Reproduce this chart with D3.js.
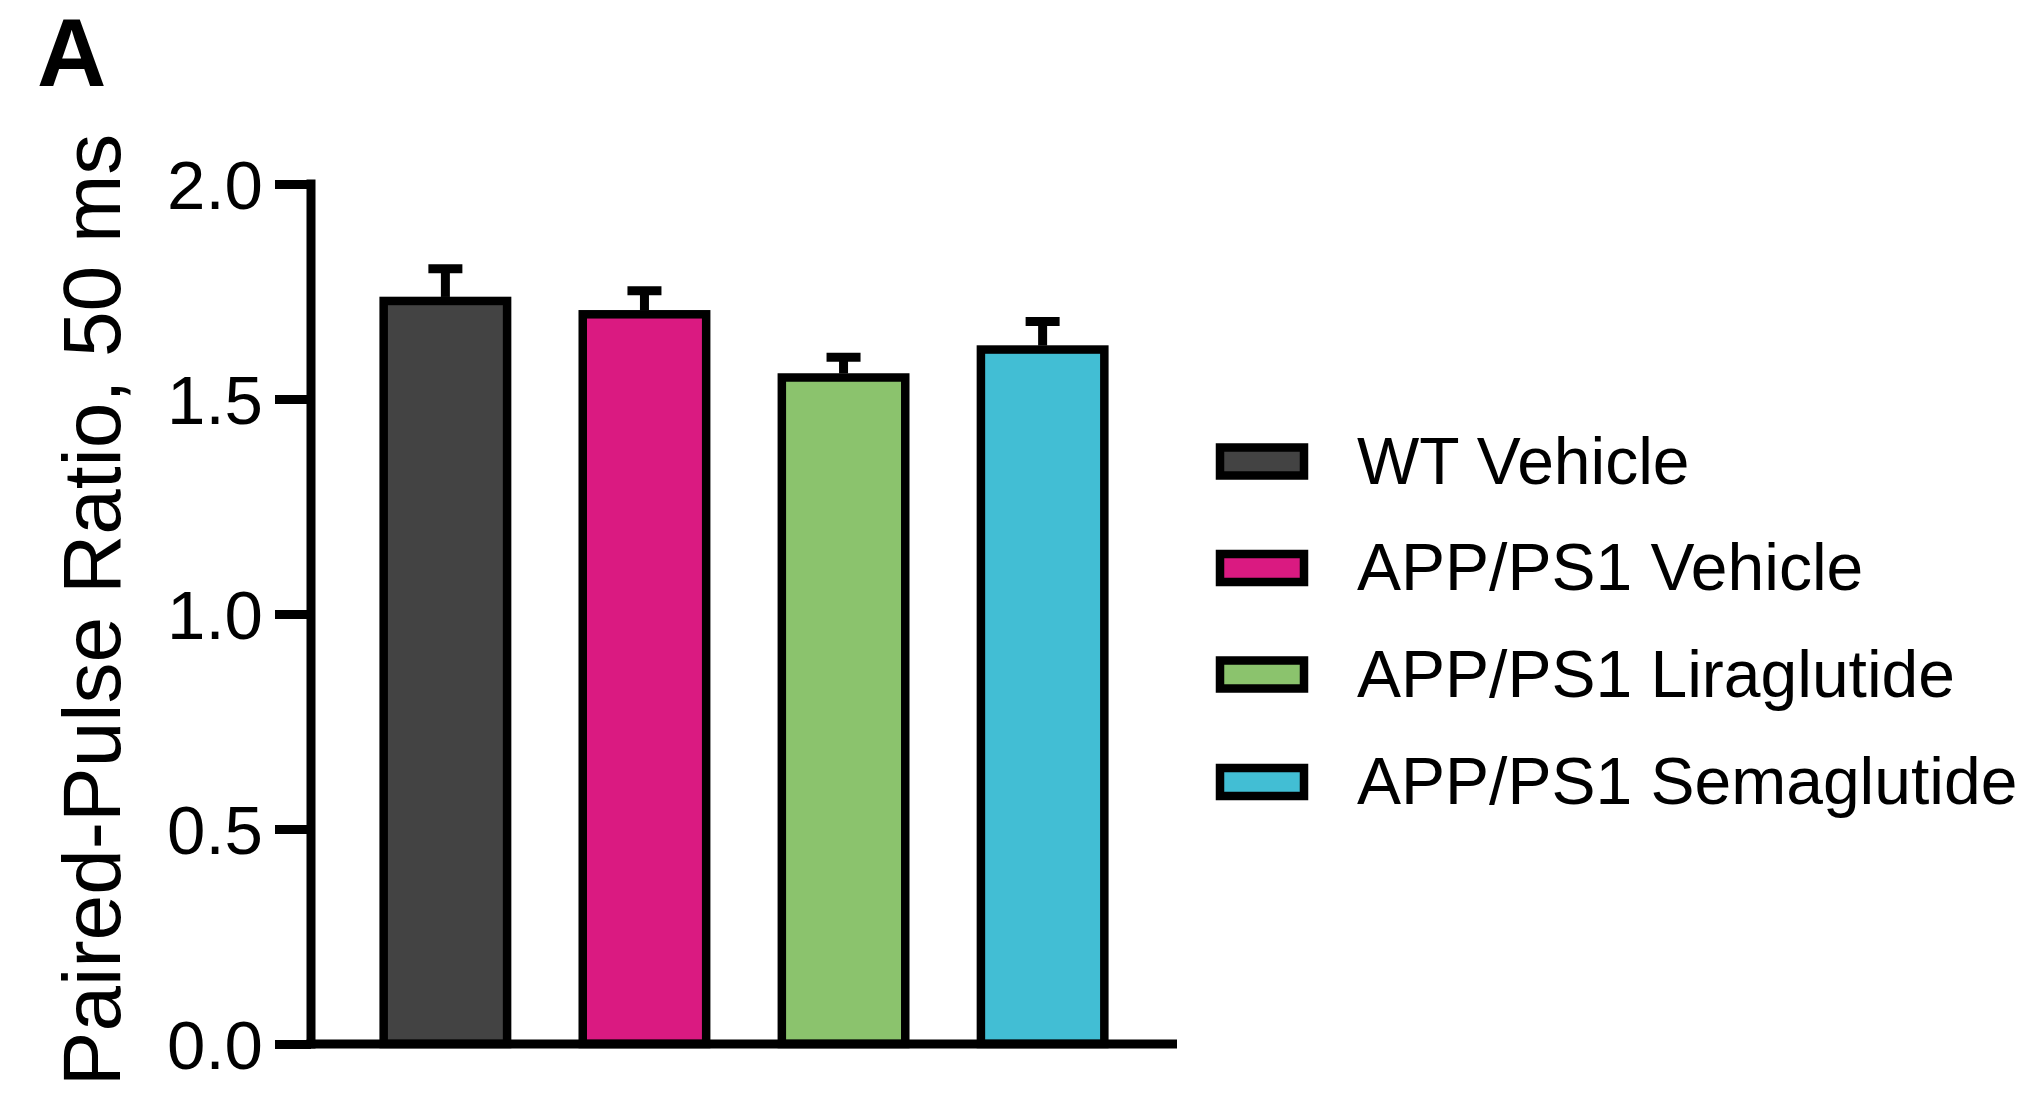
<!DOCTYPE html>
<html>
<head>
<meta charset="utf-8">
<script src="https://cdn.jsdelivr.net/npm/d3@7"></script>
<style>
  html, body { margin: 0; padding: 0; background: #fff; }
  svg { display: block; }
  text { font-family: "Liberation Sans", Arial, Helvetica, sans-serif; fill: #000; }
</style>
</head>
<body>
<svg id="chart" width="2024" height="1113"></svg>
<script>
// Paired-pulse ratio at 50 ms inter-stimulus interval, mean ± SEM per group
const groups = ["WT Vehicle", "APP/PS1 Vehicle", "APP/PS1 Liraglutide", "APP/PS1 Semaglutide"];
const means = [1.728, 1.697, 1.550, 1.615];
const sems = [0.075, 0.055, 0.047, 0.065];
const colors = ["#434343", "#DA1A81", "#8BC36D", "#42BED4"];
const yTicks = [0, 0.5, 1.0, 1.5, 2.0];

const svg = d3.select("#chart");
const lw = 9;

const x = d3.scaleBand()
  .domain(groups)
  .range([311, 1177])
  .paddingInner(0.38)
  .paddingOuter(0.365);

const y = d3.scaleLinear()
  .domain([0, 2])
  .range([1044, 184]);

// Bars
svg.append("g").selectAll("rect")
  .data(groups)
  .join("rect")
  .attr("x", d => x(d))
  .attr("width", x.bandwidth())
  .attr("y", (d, i) => y(means[i]))
  .attr("height", (d, i) => y(0) - y(means[i]))
  .attr("fill", (d, i) => colors[i])
  .attr("stroke", "#000")
  .attr("stroke-width", 8.5);

// Error bars (upper SEM)
const err = svg.append("g").attr("stroke", "#000").attr("stroke-width", lw);
groups.forEach((g, i) => {
  const cx = x(g) + x.bandwidth() / 2;
  err.append("line")
    .attr("x1", cx).attr("x2", cx)
    .attr("y1", y(means[i]) - 4).attr("y2", y(means[i] + sems[i]));
  err.append("line")
    .attr("x1", cx - 17).attr("x2", cx + 17)
    .attr("y1", y(means[i] + sems[i])).attr("y2", y(means[i] + sems[i]));
});

// Y axis
const yAxis = svg.append("g")
  .attr("transform", "translate(311,0)")
  .call(d3.axisLeft(y).tickValues(yTicks).tickFormat(d3.format(".1f"))
    .tickSize(36).tickSizeOuter(0).tickPadding(12));
yAxis.select(".domain").attr("stroke", "#000").attr("stroke-width", lw)
  .attr("d", `M0,${y(2) - lw / 2}V${y(0) + lw / 2}`);
yAxis.selectAll(".tick line").attr("stroke", "#000").attr("stroke-width", lw);
yAxis.selectAll(".tick text")
  .attr("font-size", 69)
  .attr("font-family", "'Liberation Sans', Arial, sans-serif")
  .attr("dy", "0.36em");

// X axis (baseline only)
const xAxis = svg.append("g")
  .attr("transform", `translate(0,${y(0)})`)
  .call(d3.axisBottom(x).tickSize(0).tickSizeOuter(0).tickFormat(""));
xAxis.select(".domain").attr("stroke", "#000").attr("stroke-width", lw)
  .attr("d", `M${311 - lw / 2},0H1177`);

// Y axis title
svg.append("text")
  .attr("transform", "translate(120,610) rotate(-90)")
  .attr("text-anchor", "middle")
  .attr("font-size", 82)
  .text("Paired-Pulse Ratio, 50 ms");

// Panel letter
svg.append("text")
  .attr("x", 37).attr("y", 86)
  .attr("font-size", 96)
  .attr("font-weight", "bold")
  .text("A");

// Legend
const legendY = [461.5, 568, 674.5, 782];
const legend = svg.append("g");
groups.forEach((g, i) => {
  legend.append("rect")
    .attr("x", 1220).attr("y", legendY[i] - 14)
    .attr("width", 84).attr("height", 28)
    .attr("fill", colors[i])
    .attr("stroke", "#000")
    .attr("stroke-width", 8.5);
  legend.append("text")
    .attr("x", 1357).attr("y", legendY[i] + 22)
    .attr("font-size", 66)
    .text(g);
});
</script>
</body>
</html>
